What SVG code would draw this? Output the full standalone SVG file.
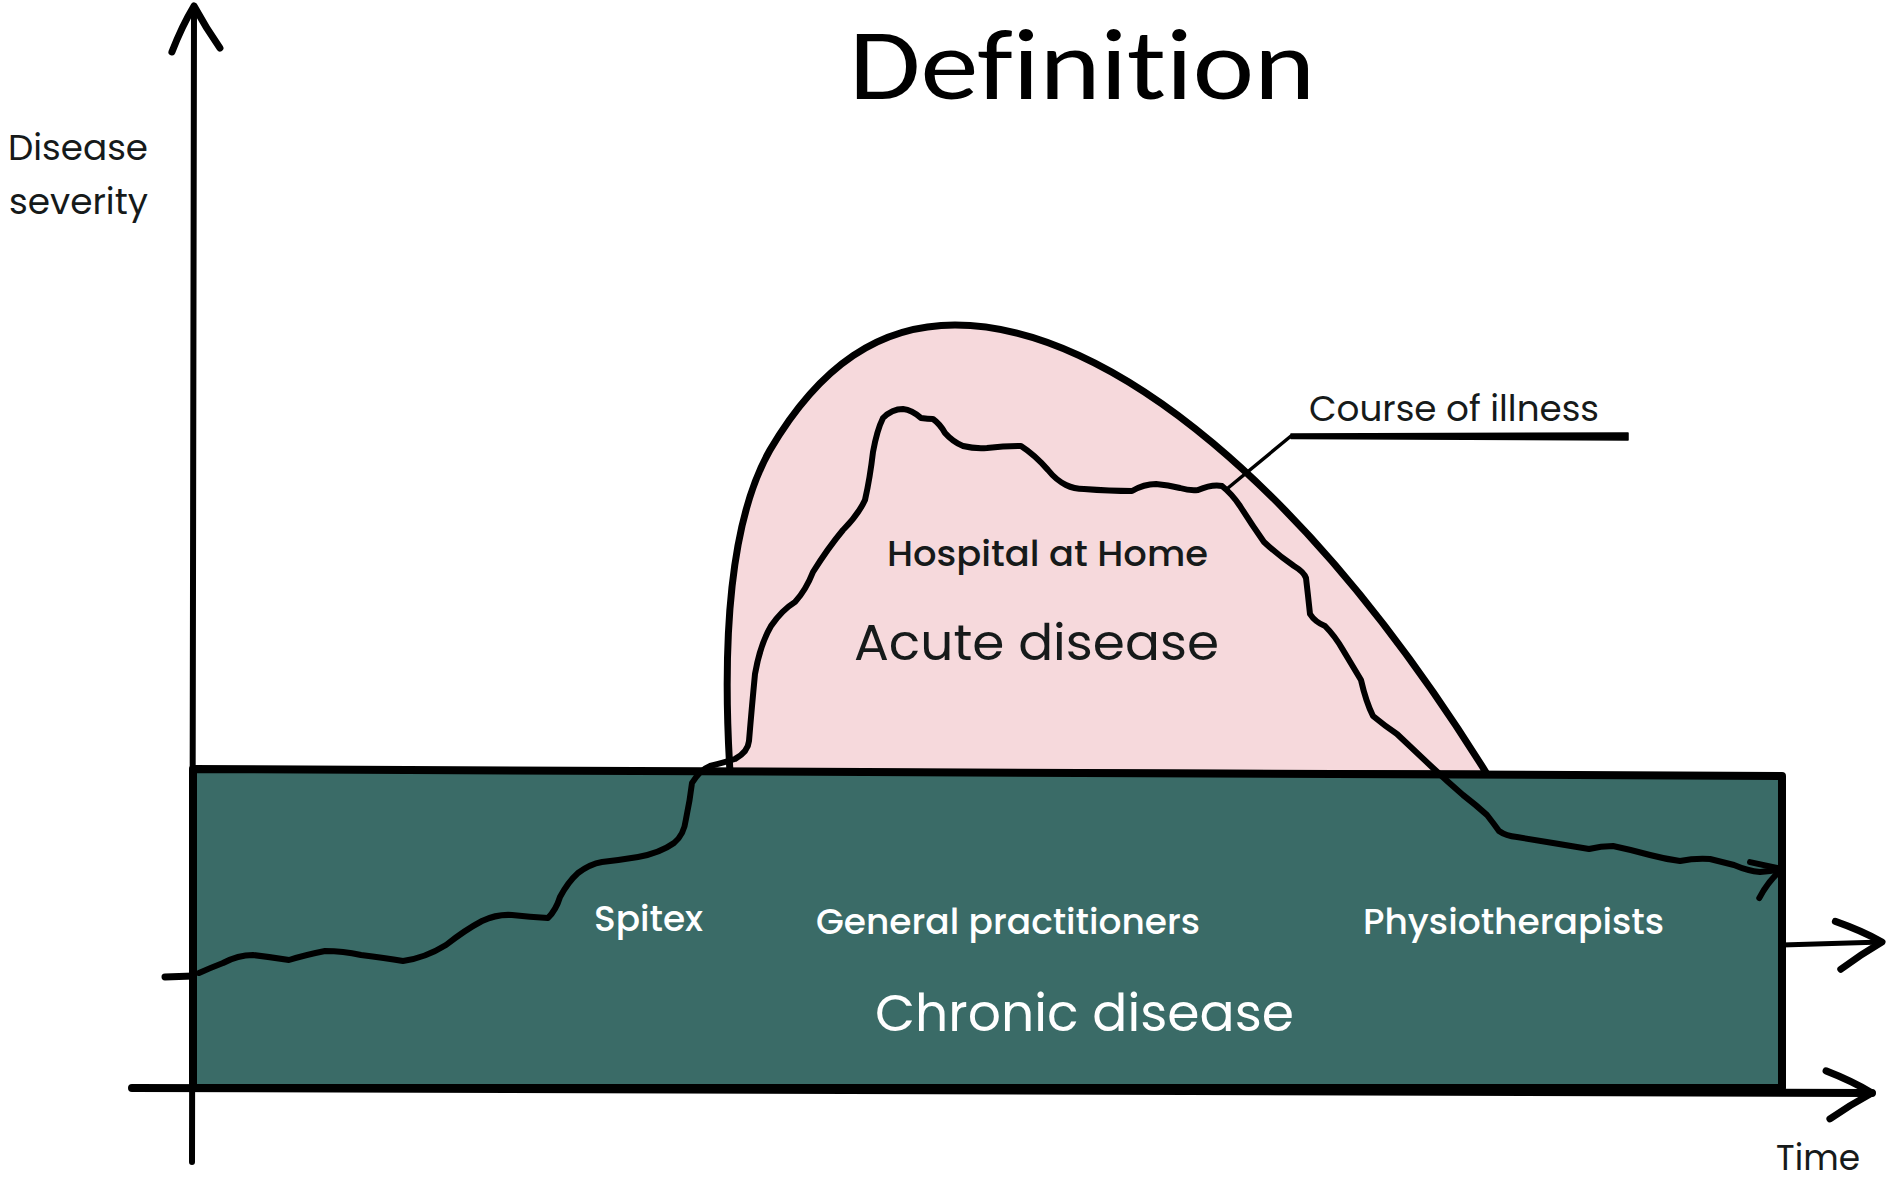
<svg xmlns="http://www.w3.org/2000/svg" width="1888" height="1182" viewBox="0 0 1888 1182">
<style>
.ink{fill:none;stroke:#000;stroke-linecap:round;stroke-linejoin:round}
.lbl{font-family:Poppins,Inter,"Noto Sans",sans-serif;fill:#161a1a}
.wl{font-family:Poppins,Inter,"Noto Sans",sans-serif;fill:#ffffff}
</style>
<defs>
<marker id="chev" markerUnits="userSpaceOnUse" viewBox="-60 -40 70 80" markerWidth="70" markerHeight="80" refX="0" refY="0" orient="auto" overflow="visible">
<path d="M-46,-22 Q-20,-12 0,0 Q-22,12 -42,26" fill="none" stroke="#000" stroke-width="7" stroke-linecap="round" stroke-linejoin="round"/>
</marker>
<marker id="chevS" markerUnits="userSpaceOnUse" viewBox="-50 -30 60 60" markerWidth="60" markerHeight="60" refX="0" refY="0" orient="auto" overflow="visible">
<path d="M-30,-13 Q-14,-6 0,0 Q-16,9 -28,24" fill="none" stroke="#000" stroke-width="6" stroke-linecap="round" stroke-linejoin="round"/>
</marker>
</defs>
<rect width="1888" height="1182" fill="#ffffff"/>

<text x="849" y="99" font-family="Carlito,'Open Sans','Noto Sans',sans-serif" font-size="100" textLength="466" lengthAdjust="spacingAndGlyphs" fill="#000" style="font-variant-ligatures:none">Definition</text>

<g id="acute">
<path d="M730,772 C722,640 730,520 770,450 C820,365 880,325 955,325 C1110,325 1310,490 1487,774 Z" fill="#f6d9dc" stroke="#000" stroke-width="7" stroke-linejoin="round"/>
<text class="lbl" x="887" y="566" font-size="36" font-weight="500" textLength="321" lengthAdjust="spacingAndGlyphs">Hospital at Home</text>
<text class="lbl" x="854" y="660" font-size="50" textLength="365" lengthAdjust="spacingAndGlyphs">Acute disease</text>
</g>

<g id="chronic">
<path d="M193,769 L1782,776 L1782,1088 L193,1088 Z" fill="#3a6b67" stroke="#000" stroke-width="8" stroke-linejoin="round"/>
<text class="wl" x="594" y="931" font-size="36" font-weight="500" textLength="109" lengthAdjust="spacingAndGlyphs">Spitex</text>
<text class="wl" x="816" y="934" font-size="36" font-weight="500" textLength="384" lengthAdjust="spacingAndGlyphs">General practitioners</text>
<text class="wl" x="1363" y="934" font-size="36" font-weight="500" textLength="301" lengthAdjust="spacingAndGlyphs">Physiotherapists</text>
<text class="wl" x="875" y="1031" font-size="52" textLength="419" lengthAdjust="spacingAndGlyphs">Chronic disease</text>
</g>

<g id="axis-labels">
<text class="lbl" x="8" y="160" font-size="35" textLength="140" lengthAdjust="spacingAndGlyphs">Disease</text>
<text class="lbl" x="9" y="214" font-size="35" textLength="139" lengthAdjust="spacingAndGlyphs">severity</text>
<text class="lbl" x="1776" y="1170" font-size="35" textLength="84" lengthAdjust="spacingAndGlyphs">Time</text>
<text class="lbl" x="1309" y="421" font-size="35" textLength="290" lengthAdjust="spacingAndGlyphs">Course of illness</text>
</g>

<g id="connectors">
<path class="ink" d="M192,1162 L194,6" stroke-width="6" marker-end="url(#chev)"/>
<path class="ink" d="M132,1088 L1872,1093" stroke-width="8" marker-end="url(#chev)"/>
<path class="ink" d="M1782,945 L1882,942" stroke-width="5" marker-end="url(#chev)"/>
<path class="ink" d="M165,977 L193,976" stroke-width="7"/>
<path class="ink" stroke-width="6" marker-end="url(#chevS)" d="M199,973 Q210,968 223,963 Q238,955 253,955 Q270,957 289,960 Q305,955 325,951 Q343,951 361,955 Q385,958 403,961 Q425,958 446,945 Q465,930 482,921 Q497,914 512,915 Q530,917 548,918 Q556,910 560,897 Q568,882 578,873 Q590,864 602,862 Q620,860 638,857 Q660,853 674,843 Q684,835 686,819 Q690,800 692,783 Q700,770 710,766 Q725,762 735,759 Q748,752 749,741 Q752,705 755,674 Q760,645 771,626 Q782,610 795,602 Q806,590 813,572 Q828,548 843,530 Q858,515 865,500 Q870,478 873,452 Q877,430 883,418 Q892,409 903,409 Q912,410 921,418 Q928,419 933,419 Q940,424 945,433 Q953,442 963,446 Q975,449 987,448 Q1005,446 1021,446 Q1035,455 1048,470 Q1056,480 1066,485 Q1074,489 1084,489 Q1110,491 1132,491 Q1144,484 1156,484 Q1168,485 1180,488 Q1190,491 1198,490 Q1212,484 1222,486 Q1232,494 1240,506 Q1252,525 1264,542 Q1278,555 1294,566 Q1304,572 1306,578 Q1308,595 1310,614 Q1315,622 1325,626 Q1335,636 1343,650 Q1352,665 1361,680 Q1366,702 1373,716 Q1385,726 1397,734 Q1415,751 1433,768 Q1448,782 1463,795 Q1476,805 1487,815 Q1494,824 1499,831 Q1506,836 1517,837 Q1535,840 1553,843 Q1571,846 1589,849 Q1601,846 1613,846 Q1632,850 1650,855 Q1665,859 1680,861 Q1695,858 1710,859 Q1722,862 1734,865 Q1748,871 1760,872 Q1772,871 1782,869"/>
<path class="ink" d="M1228,488 L1291,436" stroke-width="3.5"/>
<path d="M1291,434 L1628,433 L1628,440 L1291,438.5 Z" fill="#000" stroke="#000" stroke-width="1.5" stroke-linejoin="round"/>
</g>
</svg>
